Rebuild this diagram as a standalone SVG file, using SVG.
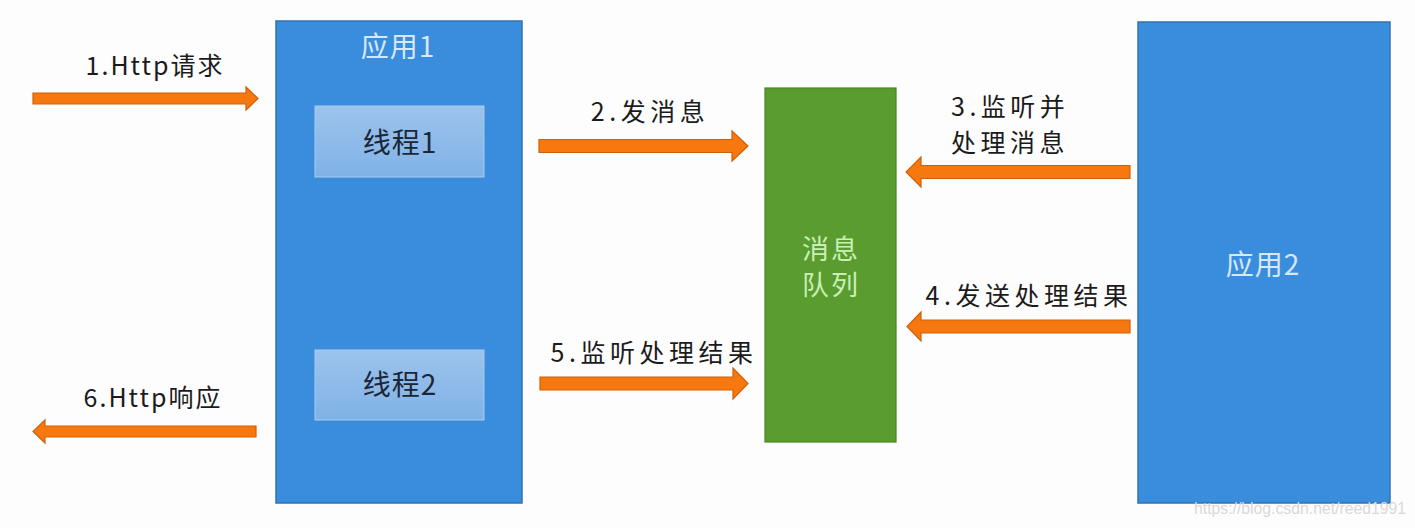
<svg xmlns="http://www.w3.org/2000/svg" width="1415" height="528" viewBox="0 0 1415 528">
<defs>
<linearGradient id="sub" x1="0" y1="0" x2="0" y2="1">
<stop offset="0" stop-color="#9cc3ec"/>
<stop offset="1" stop-color="#80b2e7"/>
</linearGradient>
<style>
text{font-family:"Noto Sans CJK SC","Open Sans","Noto Sans",sans-serif;}
.app{fill:#3a8ddd;stroke:#2f72b3;stroke-width:1.5;}
.sub{fill:url(#sub);stroke:#a9cbef;stroke-width:1;}
.queue{fill:#5a9c2f;stroke:#4a8426;stroke-width:1.2;}
.arrow{fill:#f7780f;stroke:#cf610b;stroke-width:1.2;}
.lbl{font-size:25px;fill:#1b1b1b;letter-spacing:2px;}
.cjk{letter-spacing:4.5px;}
.apptxt{font-size:28px;fill:#d6e8fa;letter-spacing:1px;}
.subtxt{font-size:28px;fill:#1b2636;letter-spacing:1px;}
.qtxt{font-size:27px;fill:#c9efb4;letter-spacing:2px;}
.wm{font-size:16px;fill:#d9d9d9;font-family:"Liberation Sans",sans-serif;}
</style>
</defs>
<rect width="1415" height="528" fill="#fdfdfd"/>
<g id="app1">
<rect class="app" x="276" y="21" width="246" height="482"/>
<text class="apptxt" x="398" y="57" text-anchor="middle">应用1</text>
</g>
<g id="thread1">
<rect class="sub" x="315" y="106" width="169" height="71"/>
<text class="subtxt" x="400" y="153" text-anchor="middle">线程1</text>
</g>
<g id="thread2">
<rect class="sub" x="315" y="350" width="169" height="70"/>
<text class="subtxt" x="400" y="395" text-anchor="middle">线程2</text>
</g>
<g id="queue">
<rect class="queue" x="765" y="88" width="131" height="354"/>
<text class="qtxt" x="831" y="259" text-anchor="middle">消息</text>
<text class="qtxt" x="831" y="295" text-anchor="middle">队列</text>
</g>
<g id="app2">
<rect class="app" x="1138" y="22" width="252" height="481"/>
<text class="apptxt" x="1263" y="275" text-anchor="middle">应用2</text>
</g>
<g id="connectors">
<polygon class="arrow" points="33,93 246,93 246,87 258,98.5 246,110 246,104 33,104"/>
<polygon class="arrow" points="256,426 45,426 45,420 33,431.5 45,443 45,437 256,437"/>
<polygon class="arrow" points="539,139.5 732,139.5 732,131 748,146 732,161 732,152.5 539,152.5"/>
<polygon class="arrow" points="540,377 733,377 733,368 748,383.5 733,399 733,390 540,390"/>
<polygon class="arrow" points="1130,165.5 921,165.5 921,157 906,172 921,187 921,178.5 1130,178.5"/>
<polygon class="arrow" points="1130,320 921,320 921,312 907,326.5 921,341 921,333 1130,333"/>
</g>
<g id="labels">
<text class="lbl" x="155" y="75" text-anchor="middle">1.Http请求</text>
<text class="lbl cjk" x="650" y="121" text-anchor="middle">2.发消息</text>
<text class="lbl cjk" x="951" y="116">3.监听并</text>
<text class="lbl cjk" x="951" y="152">处理消息</text>
<text class="lbl cjk" x="1029" y="305" text-anchor="middle">4.发送处理结果</text>
<text class="lbl cjk" x="654" y="362" text-anchor="middle">5.监听处理结果</text>
<text class="lbl" x="153" y="407" text-anchor="middle">6.Http响应</text>
</g>
<text class="wm" x="1194" y="514" textLength="212" lengthAdjust="spacingAndGlyphs">https://blog.csdn.net/reed1991</text>
</svg>
